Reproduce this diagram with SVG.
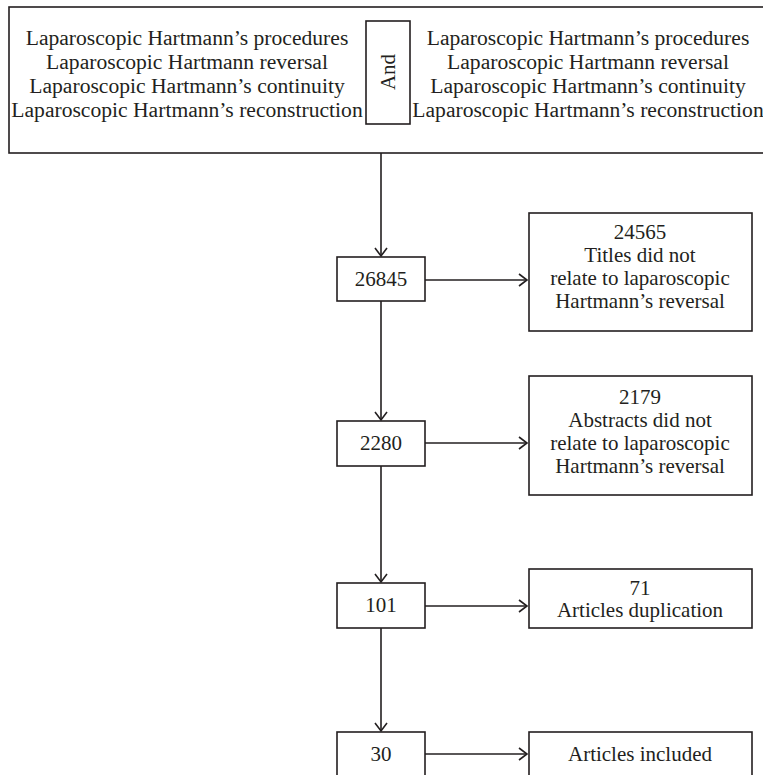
<svg xmlns="http://www.w3.org/2000/svg" width="763" height="775" viewBox="0 0 763 775">
<defs>
<style>
.box{fill:#fff;stroke:#231f20;stroke-width:1.6}
.ln{fill:none;stroke:#231f20;stroke-width:1.6}
text{font-family:"Liberation Serif","Times New Roman",serif;font-size:21px;fill:#231f20;text-anchor:middle}
.big{font-size:21.6px}
</style>
<marker id="arr" markerWidth="12" markerHeight="14" refX="10" refY="7" orient="auto" markerUnits="userSpaceOnUse">
<polyline points="2,1 10,7 2,13" fill="none" stroke="#231f20" stroke-width="1.6"/>
</marker>
</defs>
<rect width="763" height="775" fill="#fff"/>
<g id="search">
<rect class="box" x="9" y="7" width="770" height="146"/>
<text class="big" x="187" y="45">Laparoscopic Hartmann’s procedures</text>
<text class="big" x="187" y="69">Laparoscopic Hartmann reversal</text>
<text class="big" x="187" y="93">Laparoscopic Hartmann’s continuity</text>
<text class="big" x="187" y="117">Laparoscopic Hartmann’s reconstruction</text>
<text class="big" x="588" y="45">Laparoscopic Hartmann’s procedures</text>
<text class="big" x="588" y="69">Laparoscopic Hartmann reversal</text>
<text class="big" x="588" y="93">Laparoscopic Hartmann’s continuity</text>
<text class="big" x="588" y="117">Laparoscopic Hartmann’s reconstruction</text>
</g>
<g id="and">
<rect class="box" x="366" y="21" width="44" height="103"/>
<text transform="translate(395,72) rotate(-90)">And</text>
</g>
<g id="connectors">
<line class="ln" x1="381" y1="153" x2="381" y2="256" marker-end="url(#arr)"/>
<line class="ln" x1="425" y1="280" x2="527" y2="280" marker-end="url(#arr)"/>
<line class="ln" x1="381" y1="301" x2="381" y2="420" marker-end="url(#arr)"/>
<line class="ln" x1="425" y1="443" x2="527" y2="443" marker-end="url(#arr)"/>
<line class="ln" x1="381" y1="466" x2="381" y2="582" marker-end="url(#arr)"/>
<line class="ln" x1="425" y1="606" x2="527" y2="606" marker-end="url(#arr)"/>
<line class="ln" x1="381" y1="628" x2="381" y2="731" marker-end="url(#arr)"/>
<line class="ln" x1="425" y1="754" x2="527" y2="754" marker-end="url(#arr)"/>
</g>
<g id="n26845">
<rect class="box" x="337" y="257" width="88" height="44"/>
<text x="381" y="286">26845</text>
</g>
<g id="titles">
<rect class="box" x="529" y="213" width="223" height="118"/>
<text x="640" y="239">24565</text>
<text x="640" y="262">Titles did not</text>
<text x="640" y="285">relate to laparoscopic</text>
<text x="640" y="308">Hartmann’s reversal</text>
</g>
<g id="n2280">
<rect class="box" x="337" y="421" width="88" height="45"/>
<text x="381" y="450">2280</text>
</g>
<g id="abstracts">
<rect class="box" x="529" y="376" width="223" height="119"/>
<text x="640" y="404">2179</text>
<text x="640" y="427">Abstracts did not</text>
<text x="640" y="450">relate to laparoscopic</text>
<text x="640" y="473">Hartmann’s reversal</text>
</g>
<g id="n101">
<rect class="box" x="337" y="583" width="88" height="45"/>
<text x="381" y="612">101</text>
</g>
<g id="duplication">
<rect class="box" x="529" y="569" width="223" height="59"/>
<text x="640" y="595">71</text>
<text x="640" y="617">Articles duplication</text>
</g>
<g id="n30">
<rect class="box" x="337" y="732" width="88" height="50"/>
<text x="381" y="761">30</text>
</g>
<g id="included">
<rect class="box" x="529" y="732" width="223" height="50"/>
<text x="640" y="761">Articles included</text>
</g>
</svg>
